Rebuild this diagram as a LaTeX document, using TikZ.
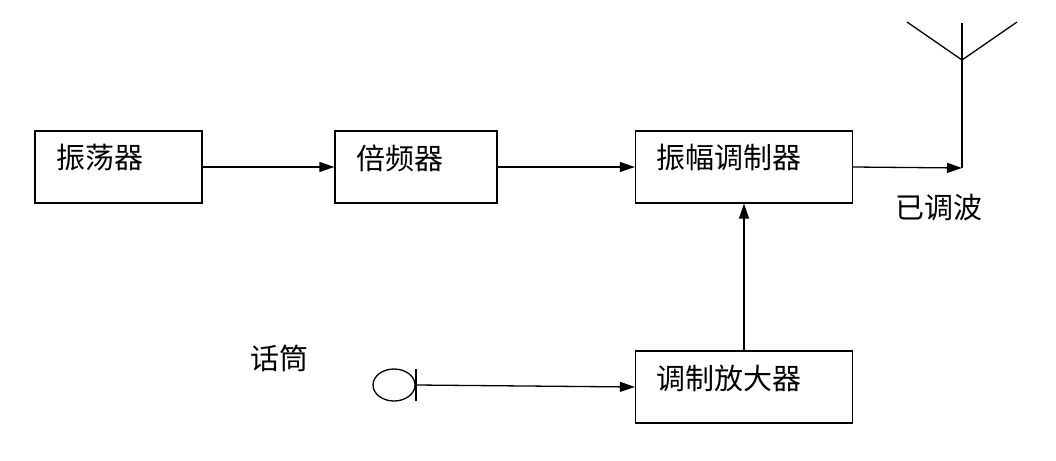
\documentclass[tikz,border=0pt]{standalone}
\usepackage{fontspec}
\newfontfamily\cjk{Noto Sans CJK SC}
\usetikzlibrary{arrows.meta,shapes.geometric}
\begin{document}
\begin{tikzpicture}[x=1pt,y=-1pt,
 box/.style={draw,line width=1.3pt,minimum width=217pt,minimum height=72pt,inner sep=0pt},
 lab/.style={font=\cjk\fontsize{29}{29}\selectfont,anchor=west,inner sep=0pt},
 arr/.style={line width=1.3pt,-{Triangle[length=15pt,width=10pt]}}]
\useasboundingbox (0,0) rectangle (1056,460);
\node[box,minimum width=167pt] (osc) at (118.5,167) {};
\node[box,minimum width=162pt] (mul) at (416,167) {};
\node[box] (mod) at (744,167) {};
\node[box] (amp) at (744,387) {};
\node[lab] (t1) at (56,158) {振荡器};
\node[lab] (t2) at (356,158) {倍频器};
\node[lab] (t3) at (656,158) {振幅调制器};
\node[lab] (t4) at (656,378) {调制放大器};
\node[lab] (t5) at (895,207) {已调波};
\node[lab] (t6) at (250,358) {话筒};
\coordinate (ant) at (962,168);
\coordinate (top) at (962,60);
\coordinate (l) at (907,22);
\coordinate (r) at (1017,22);
\coordinate (up) at (962,23);
\node[draw,line width=1.3pt,ellipse,minimum width=42pt,minimum height=32pt,inner sep=0pt] (mic) at (394,385) {};
\coordinate (mb) at (416,385);
\draw[line width=1.3pt] (416,369) -- (416,401);
\draw[arr] (osc.east) -- (mul.west);
\draw[arr] (mul.east) -- (mod.west);
\draw[arr] (mod.east) -- (ant);
\draw[line width=1.3pt] (ant) -- (up);
\draw[line width=1.3pt] (l) -- (top) -- (r);
\draw[arr] (amp.north) -- (mod.south);
\draw[arr] (mb) -- (amp.west);
\end{tikzpicture}
\end{document}
